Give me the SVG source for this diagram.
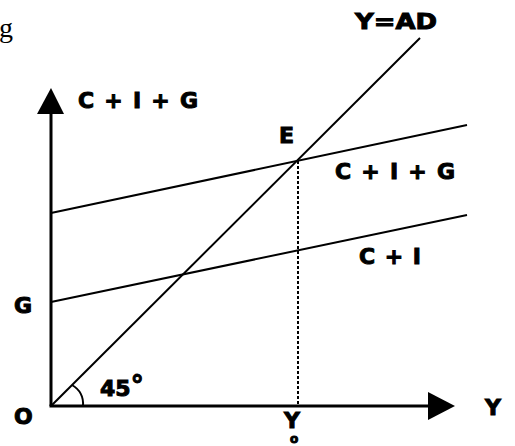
<svg xmlns="http://www.w3.org/2000/svg" width="515" height="446" viewBox="0 0 515 446">
<style>
.lbl{font-family:"DejaVu Sans","Liberation Sans",sans-serif;font-weight:bold;font-size:22px;fill:#000;stroke:#000;stroke-width:1}
.ln{stroke:#000;stroke-width:2;fill:none}
.ax{stroke:#000;stroke-width:3;fill:none}
</style>
<rect width="515" height="446" fill="#fff"/>
<text x="-1" y="37" font-family="Liberation Serif, serif" font-size="28">g</text>
<g id="axes">
<line class="ax" x1="51" y1="406" x2="51" y2="110"/>
<polygon points="37,114 51,88 64,114" fill="#000"/>
<line class="ax" x1="49.5" y1="406" x2="430" y2="406"/>
<polygon points="428,392 455,406 428,420" fill="#000"/>
</g>
<g id="connectors">
<line class="ln" x1="51" y1="406" x2="420" y2="38"/>
<line class="ln" x1="51" y1="213" x2="467" y2="125"/>
<line class="ln" x1="51" y1="302" x2="467" y2="215"/>
<line x1="298" y1="161" x2="298" y2="406" stroke="#000" stroke-width="2" stroke-dasharray="3,2"/>
<path class="ln" d="M72,385 Q84,392 83,406"/>
</g>
<g id="labels">
<text class="lbl" x="78" y="108" textLength="120" lengthAdjust="spacing">C + I + G</text>
<text class="lbl" x="355" y="29" textLength="82" lengthAdjust="spacingAndGlyphs">Y=AD</text>
<text class="lbl" x="279" y="143">E</text>
<text class="lbl" x="335" y="179" textLength="120" lengthAdjust="spacing">C + I + G</text>
<text class="lbl" x="359" y="264" textLength="62" lengthAdjust="spacing">C + I</text>
<text class="lbl" x="14" y="313">G</text>
<text class="lbl" x="14" y="424">O</text>
<text class="lbl" x="100" y="396">45<tspan font-size="26" dy="-2">°</tspan></text>
<text class="lbl" x="485" y="415">Y</text>
<text class="lbl" x="284" y="428">Y<tspan x="290" dy="15" font-size="12">o</tspan></text>
</g>
</svg>
